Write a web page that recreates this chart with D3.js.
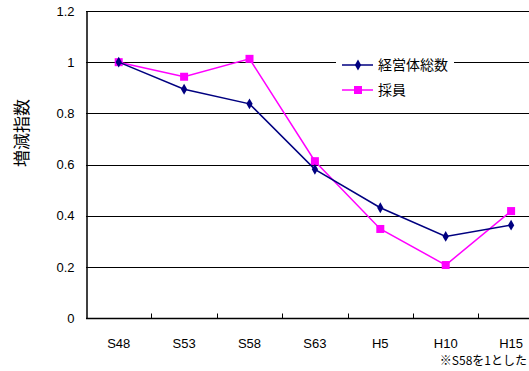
<!DOCTYPE html>
<html>
<head>
<meta charset="utf-8">
<script src="https://cdn.jsdelivr.net/npm/d3@7"></script>
<style>
  html, body { margin: 0; padding: 0; background: #fff; }
  svg { display: block; }
  text { font-family: "Liberation Sans Narrow", "Liberation Sans", "Noto Sans CJK JP", sans-serif; fill: #000; }
  .jp { font-family: "Noto Sans CJK JP", sans-serif; }
</style>
</head>
<body>
<svg id="chart" width="529" height="371"></svg>
<script>
// Year categories (Showa / Heisei)
const categories = ["S48", "S53", "S58", "S63", "H5", "H10", "H15"];
// Index values, S48 = 1
const totalFarms = [1.0, 0.894, 0.837, 0.581, 0.431, 0.319, 0.363];
const hires = [1.0, 0.943, 1.013, 0.613, 0.348, 0.207, 0.418];
const yTicks = [0, 0.2, 0.4, 0.6, 0.8, 1, 1.2];
const yTickLabels = ["0", "0.2", "0.4", "0.6", "0.8", "1", "1.2"];
const seriesNames = ["経営体総数", "採員"];
const yTitle = "増減指数";
const footnote = "※S58を1とした";

(function () {
const svg = d3.select("#chart");
const plotLeft = 86, plotTop = 11, plotBottom = 318;
const bandW = 65.4;
const plotRight = plotLeft + bandW * categories.length;

const x = d3.scaleBand().domain(categories).range([plotLeft, plotRight]).padding(0);
const y = d3.scaleLinear().domain([0, 1.2]).range([plotBottom, plotTop]);

// Horizontal gridlines
svg.append("g").selectAll("line").data(yTicks.slice(1)).join("line")
  .attr("x1", plotLeft).attr("x2", plotRight)
  .attr("y1", d => Math.round(y(d)) + 0.5).attr("y2", d => Math.round(y(d)) + 0.5)
  .attr("stroke", "#000").attr("stroke-width", 1);

// Y axis
const yAxis = d3.axisLeft(y).tickValues(yTicks).tickSize(0).tickPadding(12)
  .tickFormat((d, i) => yTickLabels[i]);
const gy = svg.append("g").attr("transform", `translate(${plotLeft + 0.5},0)`).call(yAxis);
gy.select(".domain").attr("stroke", "#000").attr("stroke-width", 1.5);
gy.selectAll("text").attr("font-size", 13).attr("font-family", "Liberation Sans Narrow, Liberation Sans, sans-serif");

// X axis with inward ticks at band boundaries
const gx = svg.append("g").attr("transform", `translate(0,${plotBottom + 0.5})`);
gx.append("line").attr("x1", plotLeft).attr("x2", plotRight).attr("stroke", "#000").attr("stroke-width", 1.5);
gx.selectAll("line.tick").data(categories.slice(1)).join("line").attr("class", "tick")
  .attr("x1", d => Math.round(x(d)) + 0.5).attr("x2", d => Math.round(x(d)) + 0.5)
  .attr("y1", 0).attr("y2", -5).attr("stroke", "#000");
gx.selectAll("text").data(categories).join("text")
  .attr("x", d => x(d) + bandW / 2).attr("y", 29.5)
  .attr("text-anchor", "middle").attr("font-size", 13)
  .text(d => d);

const cx = d => x(d) + bandW / 2;
const line = vals => d3.line().x((d, i) => cx(categories[i])).y(d => y(d))(vals);

// Hires series (magenta, squares)
svg.append("path").attr("d", line(hires)).attr("fill", "none")
  .attr("stroke", "#ff00ff").attr("stroke-width", 1.5);
svg.append("g").selectAll("rect").data(hires).join("rect")
  .attr("x", (d, i) => cx(categories[i]) - 4).attr("y", d => y(d) - 4)
  .attr("width", 8).attr("height", 8).attr("fill", "#ff00ff");

// Total farm count series (navy, diamonds)
svg.append("path").attr("d", line(totalFarms)).attr("fill", "none")
  .attr("stroke", "#000080").attr("stroke-width", 1.5);
const diamond = d3.symbol().type(d3.symbolDiamond).size(34);
svg.append("g").selectAll("path").data(totalFarms).join("path")
  .attr("transform", (d, i) => `translate(${cx(categories[i])},${y(d)})`)
  .attr("d", diamond).attr("fill", "#000080");

// Legend
const lg = svg.append("g");
lg.append("rect").attr("x", 336).attr("y", 53).attr("width", 118).attr("height", 50).attr("fill", "#fff");
const rows = [
  { name: seriesNames[0], color: "#000080", shape: "diamond", yy: 65 },
  { name: seriesNames[1], color: "#ff00ff", shape: "square", yy: 90 }
];
rows.forEach(r => {
  lg.append("line").attr("x1", 342).attr("x2", 373).attr("y1", r.yy).attr("y2", r.yy)
    .attr("stroke", r.color).attr("stroke-width", 1.5);
  if (r.shape === "diamond") {
    lg.append("path").attr("transform", `translate(358,${r.yy})`).attr("d", diamond).attr("fill", r.color);
  } else {
    lg.append("rect").attr("x", 354).attr("y", r.yy - 4).attr("width", 8).attr("height", 8).attr("fill", r.color);
  }
  lg.append("text").attr("class", "jp").attr("x", 378).attr("y", r.yy).attr("dy", "0.35em")
    .attr("font-size", 14).text(r.name);
});

// Y axis title
svg.append("text").attr("class", "jp")
  .attr("transform", "translate(22,133) rotate(-90)")
  .attr("text-anchor", "middle").attr("dy", "0.35em")
  .attr("font-size", 17).text(yTitle);

// Footnote, kept inside the right edge
svg.append("text").attr("class", "jp").attr("x", 527).attr("y", 361).attr("dy", "0.35em")
  .attr("text-anchor", "end").attr("font-size", 12).text(footnote);
})();
</script>
</body>
</html>
